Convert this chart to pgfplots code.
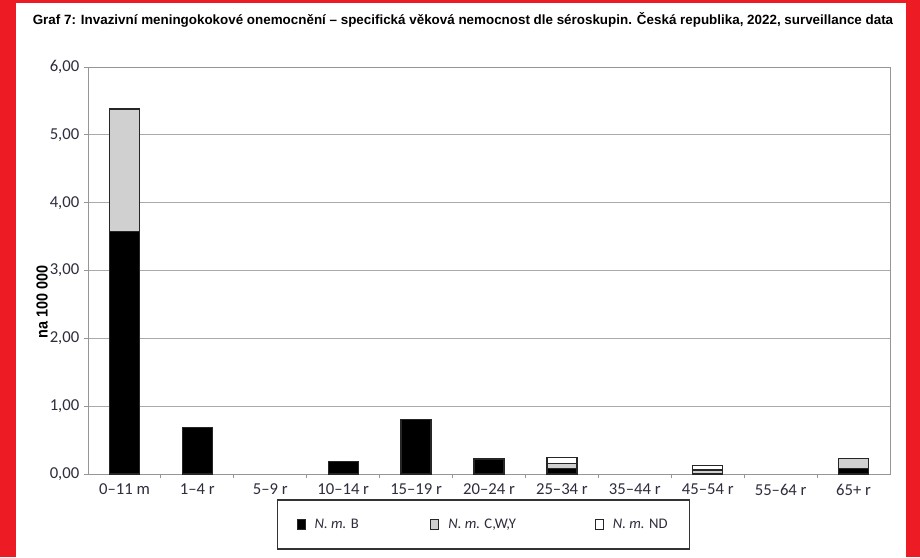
\documentclass[border=0pt]{standalone}
\usepackage{pgfplots}
\pgfplotsset{compat=1.18}
\usepackage{fontspec}
\setmainfont{Carlito}
\newfontfamily\titlefont{Liberation Sans}
\newfontfamily\ylabfont[FakeStretch=0.9]{Liberation Sans}
\definecolor{redframe}{RGB}{237,28,36}
\definecolor{axgray}{RGB}{150,150,150}
\definecolor{gridgray}{RGB}{170,170,170}
\definecolor{ticktext}{RGB}{45,45,60}
\definecolor{cwy}{RGB}{208,208,208}
\begin{document}
\begin{tikzpicture}[x=0.75pt,y=0.75pt]
\fill[redframe] (0,0) rectangle (920,557);
\fill[white] (16,0) rectangle (906,554);
\path[use as bounding box] (0,0) rectangle (920,557);
\node[font=\titlefont\bfseries\fontsize{10.05pt}{12pt}\selectfont, anchor=center] at (463,537)
  {Graf 7: Invazivní meningokokové onemocnění – specifická věková nemocnost dle séroskupin. Česká republika, 2022, surveillance data};
\node[font=\ylabfont\bfseries\fontsize{12pt}{14pt}\selectfont, rotate=90] at (42,255) {na 100 000};
\begin{axis}[
  at={(66pt,62.25pt)}, anchor=south west,
  scale only axis, width=601.5pt, height=305.25pt,
  ybar stacked, bar width=22.5pt,
  xmin=-0.5, xmax=10.5, ymin=0, ymax=6,
  xtick={0,...,10},
  xticklabels={0–11 m,1–4 r,5–9 r,10–14 r,15–19 r,20–24 r,25–34 r,35–44 r,45–54 r,55–64 r,65+ r},
  minor xtick={0.5,1.5,...,9.5},
  ytick={0,1,...,6},
  major x tick style={draw=none},
  minor tick length=3pt, major tick length=3pt,
  tick align=outside, tick pos=left,
  every tick/.style={axgray, line width=0.75pt},
  axis line style={axgray, line width=0.75pt},
  ymajorgrids, grid style={gridgray, line width=0.75pt},
  yticklabel style={/pgf/number format/.cd, fixed, fixed zerofill, precision=2, use comma, assume math mode=true},
  tick label style={font=\fontsize{12.5pt}{14pt}\selectfont, text=ticktext},
  xticklabel style={yshift=-1pt},
  legend columns=3,
  legend style={at={(0.493,-0.124)}, anchor=center, draw=black!80, line width=1pt,
    font=\fontsize{11pt}{13pt}\selectfont, text=ticktext,
    inner xsep=14.5pt, inner ysep=12pt,
    /tikz/column 1/.style={column sep=5pt},
    /tikz/column 3/.style={column sep=5pt},
    /tikz/column 5/.style={column sep=5pt},
    /tikz/column 2/.style={column sep=51.5pt},
    /tikz/column 4/.style={column sep=57pt}},
  legend image code/.code={\draw[#1, line width=0.6pt] (0pt,-4pt) rectangle (6pt,4pt);},
  legend cell align=left,
]
\addplot[fill=black, draw=black!85, line width=0.9pt] coordinates {
  (0,3.58) (1,0.68) (2,0) (3,0.18) (4,0.80) (5,0.22) (6,0.08) (7,0) (8,0) (9,0) (10,0.08)};
\addplot[fill=cwy, draw=black!85, line width=0.9pt] coordinates {
  (0,1.80) (1,0) (2,0) (3,0) (4,0) (5,0) (6,0.08) (7,0) (8,0.06) (9,0) (10,0.15)};
\addplot[fill=white, draw=black!85, line width=0.9pt] coordinates {
  (0,0) (1,0) (2,0) (3,0) (4,0) (5,0) (6,0.08) (7,0) (8,0.06) (9,0) (10,0)};
\legend{{\textit{N. m.} B}, {\textit{N. m.} C,W,Y}, {\textit{N. m.} ND}}
\draw[axgray, line width=0.75pt] (axis cs:-0.5,0) -- (axis cs:10.5,0);
\end{axis}
\end{tikzpicture}
\end{document}
